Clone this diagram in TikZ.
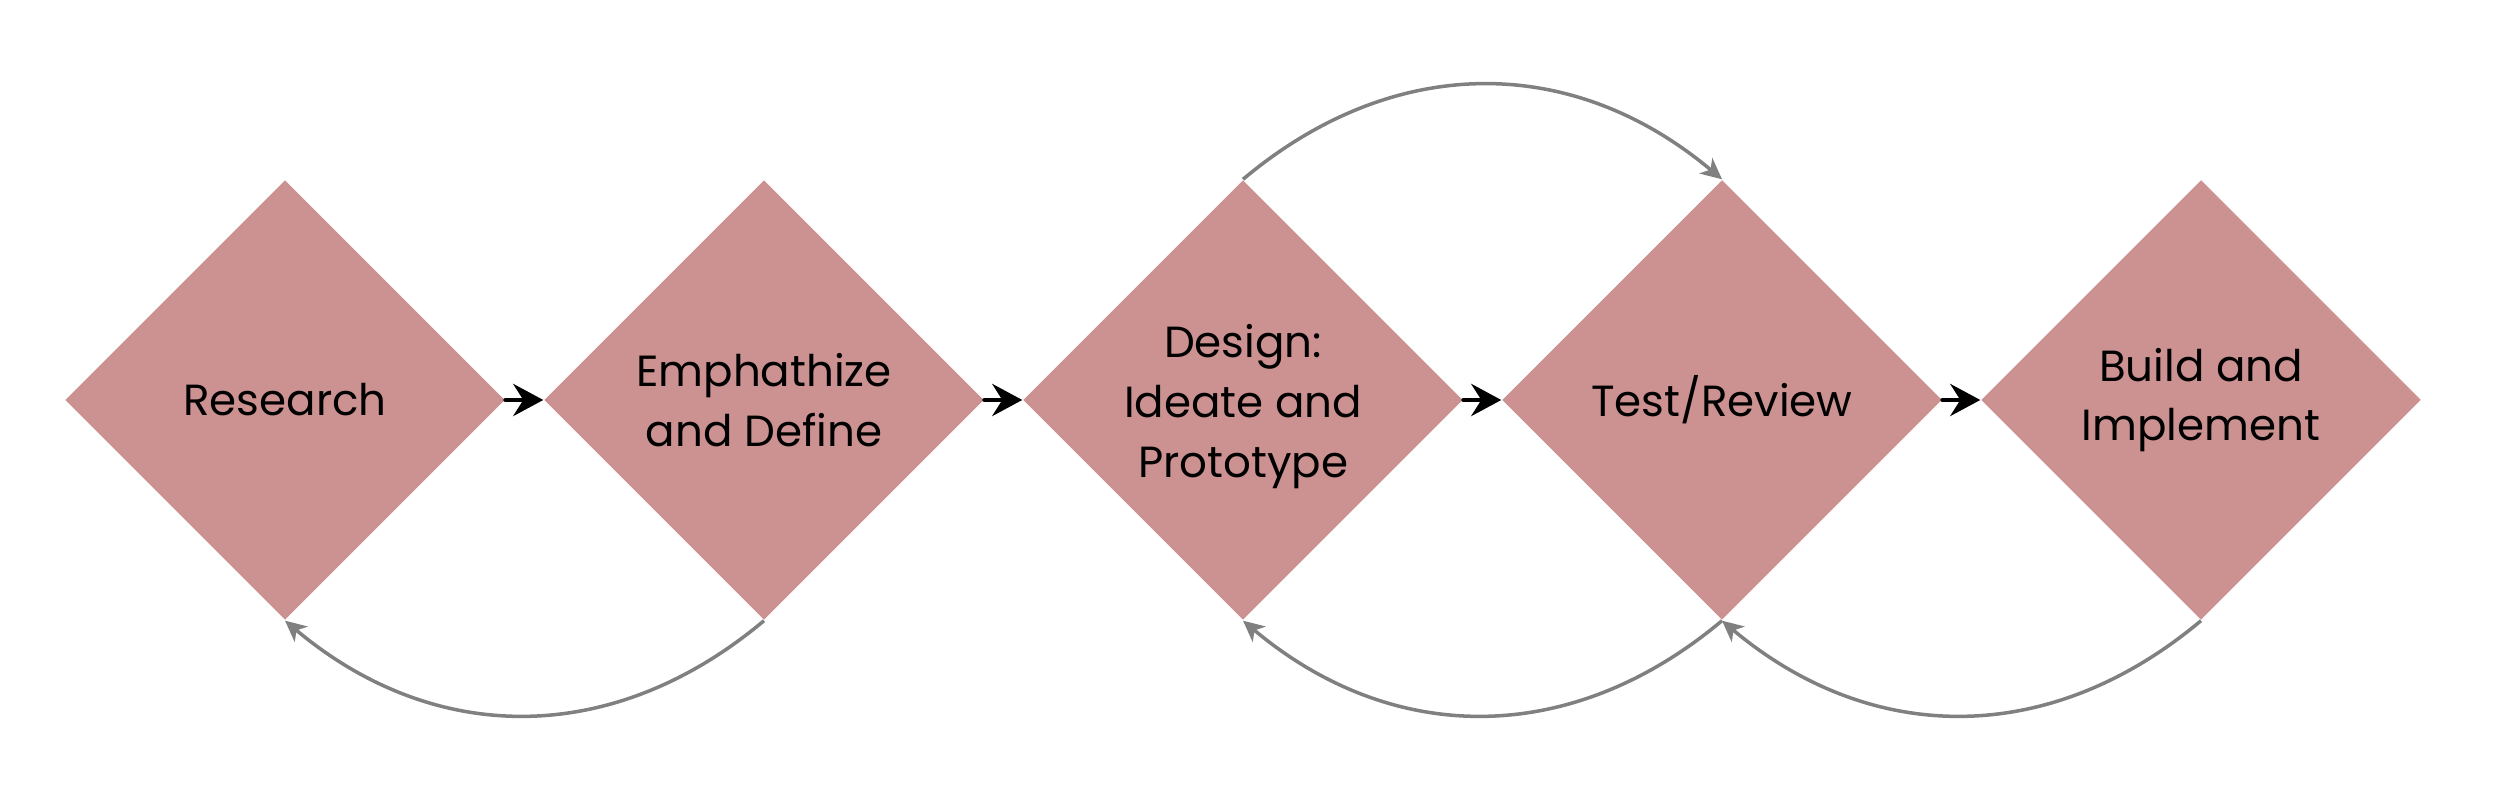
\documentclass[tikz,border=0pt]{standalone}
\usepackage{fontspec}
\setmainfont{Poppins}
\usetikzlibrary{shapes.geometric,arrows.meta}
\definecolor{boxrose}{RGB}{204,145,145}
\definecolor{loopgray}{RGB}{128,128,128}
\tikzset{
  stage/.style={diamond, aspect=1, fill=boxrose, draw=none, inner sep=0pt,
    minimum width=4.4cm, minimum height=4.4cm, align=center,
    font=\fontsize{12.4pt}{17pt}\selectfont},
  flow/.style={line width=1.4pt, line cap=round,
    -{Stealth[length=0.3cm, width=0.32cm, inset=0.1cm]}},
  loop/.style={line width=1pt, draw=loopgray,
    -{Stealth[length=0.21cm, width=0.2cm, inset=0.06cm]}, looseness=1.05}
}
\begin{document}
\begin{tikzpicture}
\useasboundingbox (0,0) rectangle (25,7.86);
\node[stage] (s1) at (2.85,3.86) {Research};
\node[stage] (s2) at (7.64,3.86) {Emphathize\\and Define};
\node[stage] (s3) at (12.43,3.86) {\rule{0pt}{0.46cm}Design:\\Ideate and\\Prototype};
\node[stage] (s4) at (17.22,3.86) {Test/Review};
\node[stage] (s5) at (22.01,3.86) {Build and\\Implement};
\draw[flow] (s1.east) -- (s2.west);
\draw[flow] (s2.east) -- (s3.west);
\draw[flow] (s3.east) -- (s4.west);
\draw[flow] (s4.east) -- (s5.west);
\draw[loop] (s2.south) to[out=-140, in=-40] (s1.south);
\draw[loop] (s4.south) to[out=-140, in=-40] (s3.south);
\draw[loop] (s5.south) to[out=-140, in=-40] (s4.south);
\draw[loop] (s3.north) to[out=40, in=140] (s4.north);
\end{tikzpicture}
\end{document}
